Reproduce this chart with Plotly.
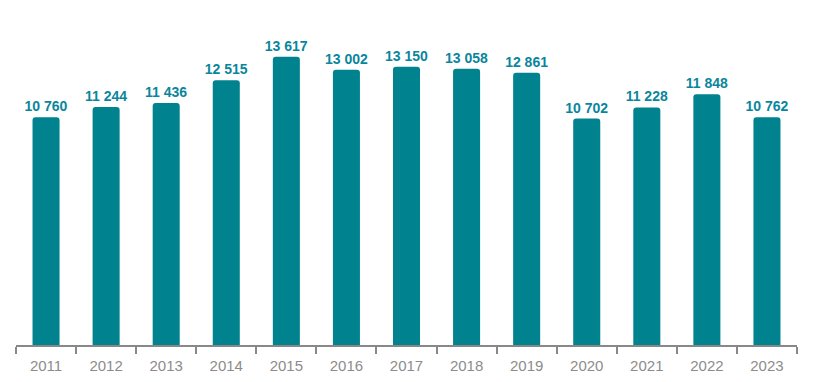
import plotly.graph_objects as go

years = ["2011", "2012", "2013", "2014", "2015", "2016", "2017", "2018", "2019", "2020", "2021", "2022", "2023"]
values = [10760, 11244, 11436, 12515, 13617, 13002, 13150, 13058, 12861, 10702, 11228, 11848, 10762]
labels = [f"{v:,}".replace(",", " ") for v in values]

teal = "#00838F"
label_color = "#0A869C"

fig = go.Figure(go.Bar(
    x=years, y=values, text=labels, textposition="outside",
    textfont=dict(family="Liberation Sans, Arial", size=14, color=label_color, weight="bold"),
    marker=dict(color=teal, line=dict(width=0)),
    cliponaxis=False, constraintext="none",
))
fig.update_layout(
    width=814, height=382,
    margin=dict(l=8, r=25, t=2, b=45),
    plot_bgcolor="white", paper_bgcolor="white",
    bargap=0.55, barcornerradius=3,
    showlegend=False,
    font=dict(family="Liberation Sans, Arial"),
)
fig.update_xaxes(
    type="category", showline=True, linecolor="#888888", linewidth=2,
    ticks="outside", tickson="boundaries", ticklen=7, tickcolor="#888888", tickwidth=2,
    ticklabelstandoff=6,
    tickfont=dict(size=15, color="#8C8C8C"), showgrid=False,
)
fig.update_yaxes(range=[0, 15830], visible=False, showgrid=False)
fig.write_html("out.html")
